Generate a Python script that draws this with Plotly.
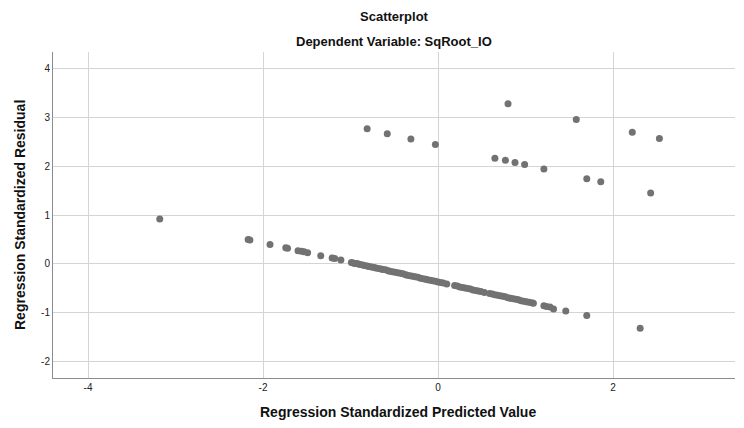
import plotly.graph_objects as go

predicted = [
    -3.18, -0.81, -0.58, -0.31, -0.03, 0.80, 1.58, 2.22, 2.53,
    0.65, 0.77, 0.88, 0.99, 1.21, 1.70, 1.86, 2.43, 2.31,
    -2.17, -2.15, -1.92, -1.74, -1.72, -1.60, -1.56, -1.53, -1.49, -1.34, -1.21, -1.18, -1.11,
    -0.99, -0.97, -0.95, -0.93, -0.91, -0.89, -0.86, -0.84, -0.81, -0.79, -0.76, -0.73, -0.71,
    -0.68, -0.65, -0.63, -0.60, -0.57, -0.55, -0.52, -0.49, -0.46, -0.43, -0.40, -0.37, -0.35,
    -0.32, -0.29, -0.26, -0.23, -0.20, -0.17, -0.14, -0.12, -0.09, -0.06, -0.03, 0.00, 0.03,
    0.06, 0.10, 0.19, 0.22, 0.25, 0.28, 0.31, 0.34, 0.37, 0.40, 0.43, 0.46, 0.49, 0.53,
    0.59, 0.62, 0.65, 0.68, 0.71, 0.74, 0.77, 0.80, 0.83, 0.86, 0.89, 0.92, 0.95, 0.98,
    1.01, 1.04, 1.07, 1.09, 1.21, 1.24, 1.28, 1.32, 1.46, 1.70,
]
residual = [
    0.92, 2.76, 2.66, 2.55, 2.44, 3.27, 2.95, 2.69, 2.56,
    2.16, 2.12, 2.07, 2.03, 1.94, 1.74, 1.68, 1.45, -1.31,
    0.50, 0.49, 0.40, 0.33, 0.32, 0.27, 0.26, 0.25, 0.23, 0.17, 0.12, 0.11, 0.08,
    0.03, 0.02, 0.01, 0.01, 0.00, -0.01, -0.02, -0.03, -0.04, -0.05, -0.06, -0.07, -0.08,
    -0.09, -0.10, -0.11, -0.12, -0.14, -0.15, -0.16, -0.17, -0.18, -0.19, -0.20, -0.22, -0.23,
    -0.24, -0.25, -0.26, -0.27, -0.29, -0.30, -0.31, -0.32, -0.33, -0.34, -0.35, -0.37, -0.38,
    -0.39, -0.41, -0.44, -0.45, -0.47, -0.48, -0.49, -0.50, -0.51, -0.53, -0.54, -0.55, -0.56, -0.58,
    -0.60, -0.61, -0.63, -0.64, -0.65, -0.66, -0.67, -0.69, -0.70, -0.71, -0.72, -0.73, -0.75, -0.76,
    -0.77, -0.78, -0.79, -0.80, -0.85, -0.87, -0.88, -0.92, -0.96, -1.05,
]

x_ticks = [-4, -2, 0, 2]
y_ticks = [-2, -1, 0, 1, 2, 3, 4]

title_main = "Scatterplot"
title_sub = "Dependent Variable: SqRoot_IO"
x_title = "Regression Standardized Predicted Value"
y_title = "Regression Standardized Residual"

FONT = "Liberation Sans, Arial, sans-serif"
W, H = 744, 428
OFF = 8  # page body margin offset
# target plot box in window pixels
BOX_L, BOX_R, BOX_T, BOX_B = 53, 735, 52, 378
M_L = BOX_L - OFF
M_T = BOX_T - OFF
M_R = W - (BOX_R - OFF)
M_B = H - (BOX_B - OFF)
plot_w = W - M_L - M_R
plot_h = H - M_T - M_B


def py_paper(py):
    return 1 + (BOX_T - py) / plot_h


def px_paper(px):
    return (px - BOX_L) / plot_w


fig = go.Figure(go.Scatter(
    x=predicted, y=residual, mode="markers",
    marker=dict(size=7, color="#727272", line=dict(width=0)),
    hoverinfo="x+y",
))

fig.update_layout(
    width=W, height=H,
    margin=dict(l=M_L, r=M_R, t=M_T, b=M_B, autoexpand=False),
    paper_bgcolor="white", plot_bgcolor="white",
    showlegend=False,
    font=dict(family=FONT, color="#222222"),
    xaxis=dict(
        range=[-4.40, 3.394], tickvals=x_ticks, ticktext=[str(v) for v in x_ticks],
        showgrid=True, gridcolor="#d4d4d4", gridwidth=1,
        showline=True, linecolor="#8c8c8c", linewidth=1,
        zeroline=False, ticks="", tickfont=dict(size=10, color="#222222"),
        automargin=False,
    ),
    yaxis=dict(
        range=[-2.327, 4.327], tickvals=y_ticks, ticktext=[str(v) for v in y_ticks],
        showgrid=True, gridcolor="#d4d4d4", gridwidth=1,
        showline=True, linecolor="#8c8c8c", linewidth=1,
        zeroline=False, ticks="", tickfont=dict(size=10, color="#222222"),
        automargin=False,
    ),
    annotations=[
        dict(text=f"<b>{title_main}</b>", x=0.5, y=py_paper(17), xref="paper", yref="paper",
             showarrow=False, yanchor="middle", font=dict(size=13, color="#111111")),
        dict(text=f"<b>{title_sub}</b>", x=0.5, y=py_paper(42), xref="paper", yref="paper",
             showarrow=False, yanchor="middle", font=dict(size=13, color="#111111")),
        dict(text=f"<b>{x_title}</b>", x=px_paper(398), y=py_paper(412),
             xref="paper", yref="paper", showarrow=False, yanchor="middle",
             font=dict(size=14, color="#111111")),
        dict(text=f"<b>{y_title}</b>", x=px_paper(20), y=py_paper(215),
             xref="paper", yref="paper", showarrow=False, textangle=-90,
             xanchor="center", yanchor="middle", font=dict(size=14, color="#111111")),
    ],
)

fig.write_html("out.html")
